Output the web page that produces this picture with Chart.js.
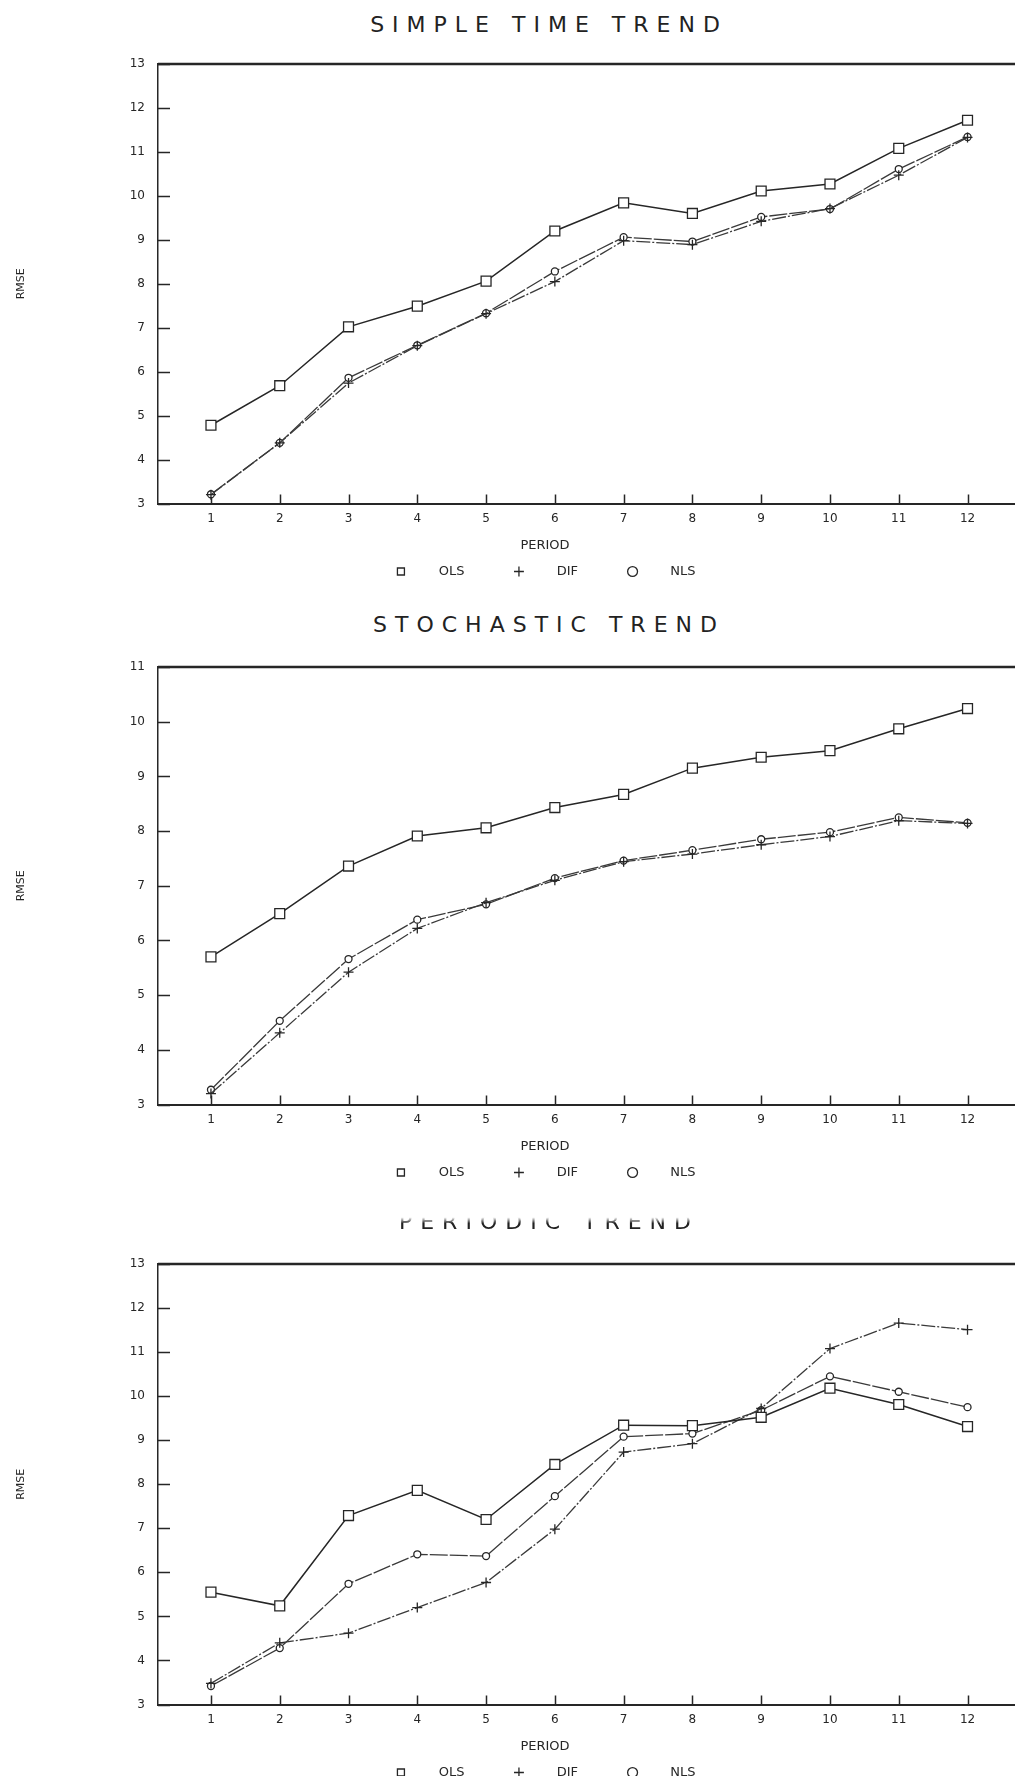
<!DOCTYPE html>
<html>
<head>
<meta charset="utf-8">
<title>RMSE by forecast period</title>
<script src="https://cdn.jsdelivr.net/npm/chart.js@4.4.1/dist/chart.umd.min.js"></script>
<style>
    html, body {
        margin: 0;
        padding: 0;
        width: 1015px;
        height: 1776px;
        overflow: hidden;
        background: #fff;
    }
    .panel-title {
        position: absolute;
        left: 0;
        width: 1098px;
        text-align: center;
        font-family: 'DejaVu Sans', sans-serif;
        font-size: 22px;
        font-weight: normal;
        line-height: 26px;
        letter-spacing: 8px;
        color: #222;
        white-space: nowrap;
    }
    .faded {
        -webkit-mask-image: linear-gradient(to bottom, transparent 0%, transparent 32%, #000 55%);
        mask-image: linear-gradient(to bottom, transparent 0%, transparent 32%, #000 55%);
    }
    canvas {
        position: absolute;
        left: 0;
    }
</style>
</head>
<body>
<div class="panel-title" style="top: 12px;">SIMPLE TIME TREND</div>
<div class="panel-title" style="top: 612px;">STOCHASTIC TREND</div>
<div class="panel-title faded" style="top: 1209px;">PERIODIC TREND</div>

<canvas id="simpleChart"></canvas>
<canvas id="stochChart"></canvas>
<canvas id="periodicChart"></canvas>

<script>
// Forecast horizon (x axis)
const periods = [1, 2, 3, 4, 5, 6, 7, 8, 9, 10, 11, 12];

// Simple time trend
const simpleOLS = [4.78, 5.68, 7.02, 7.49, 8.06, 9.20, 9.84, 9.60, 10.11, 10.27, 11.08, 11.72];
const simpleDIF = [3.20, 4.38, 5.74, 6.59, 7.32, 8.05, 8.98, 8.89, 9.42, 9.71, 10.47, 11.33];
const simpleNLS = [3.21, 4.38, 5.86, 6.60, 7.33, 8.28, 9.06, 8.96, 9.52, 9.70, 10.61, 11.34];

// Stochastic trend
const stochOLS = [5.70, 6.49, 7.36, 7.91, 8.06, 8.43, 8.67, 9.15, 9.35, 9.47, 9.87, 10.24];
const stochDIF = [3.20, 4.31, 5.42, 6.22, 6.69, 7.10, 7.44, 7.58, 7.75, 7.90, 8.19, 8.14];
const stochNLS = [3.27, 4.53, 5.66, 6.38, 6.66, 7.14, 7.46, 7.65, 7.85, 7.98, 8.25, 8.15];

// Periodic trend
const periodicOLS = [5.55, 5.24, 7.29, 7.86, 7.20, 8.45, 9.34, 9.33, 9.52, 10.18, 9.81, 9.31];
const periodicDIF = [3.48, 4.40, 4.62, 5.20, 5.77, 6.98, 8.73, 8.92, 9.72, 11.08, 11.66, 11.51];
const periodicNLS = [3.42, 4.28, 5.74, 6.41, 6.37, 7.73, 9.08, 9.15, 9.68, 10.45, 10.10, 9.75];

const seriesNames = ['OLS', 'DIF', 'NLS'];

const INK = '#262626';
const FONT = "'DejaVu Sans', sans-serif";

Chart.defaults.font.family = FONT;
Chart.defaults.color = INK;

// Top frame line and inward tick marks, plotter style
const frameTicks = {
    id: 'frameTicks',
    beforeDatasetsDraw(chart) {
        const { ctx, chartArea: a, scales: { x, y } } = chart;
        ctx.save();
        ctx.strokeStyle = INK;
        ctx.lineWidth = 2.5;
        ctx.beginPath();
        ctx.moveTo(a.left, a.top);
        ctx.lineTo(a.right, a.top);
        ctx.stroke();

        ctx.lineWidth = 1.5;
        ctx.beginPath();
        y.ticks.forEach(t => {
            const py = Math.round(y.getPixelForValue(t.value)) + 0.5;
            ctx.moveTo(a.left, py);
            ctx.lineTo(a.left + 12, py);
        });
        x.ticks.forEach(t => {
            const px = Math.round(x.getPixelForValue(t.value)) + 0.5;
            ctx.moveTo(px, a.bottom);
            ctx.lineTo(px, a.bottom - 9);
        });
        ctx.stroke();
        ctx.restore();
    },
};

function toPoints(values) {
    return periods.map((p, i) => ({ x: p, y: values[i] }));
}

function makeChart(id, top, plotTop, plotHeight, yMax, ols, dif, nls) {
    const canvas = document.getElementById(id);
    const padTop = plotTop - top;
    // plot runs past the right edge of the page, as on the printed sheet
    canvas.width = 1090;
    canvas.height = padTop + plotHeight + 81;
    canvas.style.top = top + 'px';

    return new Chart(canvas.getContext('2d'), {
        type: 'line',
        data: {
            datasets: [
                {
                    label: seriesNames[0],
                    data: toPoints(ols),
                    borderColor: INK,
                    borderWidth: 1.5,
                    pointStyle: 'rect',
                    pointRadius: 7,
                    pointBorderWidth: 1.3,
                    pointBackgroundColor: '#fff',
                    pointBorderColor: INK,
                    backgroundColor: '#fff',
                },
                {
                    label: seriesNames[1],
                    data: toPoints(dif),
                    borderColor: '#3a3a3a',
                    borderWidth: 1.3,
                    borderDash: [14, 2, 2, 2],
                    pointStyle: 'cross',
                    pointRadius: 5,
                    pointBorderWidth: 1.3,
                    pointBorderColor: INK,
                    backgroundColor: '#fff',
                },
                {
                    label: seriesNames[2],
                    data: toPoints(nls),
                    borderColor: '#3a3a3a',
                    borderWidth: 1.3,
                    borderDash: [18, 2],
                    pointStyle: 'circle',
                    pointRadius: 3.5,
                    pointBorderWidth: 1.3,
                    pointBackgroundColor: '#fff',
                    pointBorderColor: INK,
                    backgroundColor: '#fff',
                },
            ],
        },
        options: {
            responsive: false,
            animation: false,
            events: [],
            layout: {
                padding: { top: padTop, right: 0, bottom: 0, left: 0 },
            },
            plugins: {
                tooltip: { enabled: false },
                legend: {
                    position: 'bottom',
                    title: {
                        display: true,
                        text: 'PERIOD',
                        color: INK,
                        font: { size: 13 },
                        padding: { top: 5.1, bottom: -37.6 },
                    },
                    labels: {
                        usePointStyle: true,
                        boxHeight: 7,
                        padding: 48,
                        color: INK,
                        font: { size: 13 },
                        generateLabels(chart) {
                            return Chart.defaults.plugins.legend.labels.generateLabels(chart)
                                .map(item => ({ ...item, text: '      ' + item.text }));
                        },
                    },
                },
            },
            scales: {
                x: {
                    type: 'linear',
                    min: 0.23,
                    max: 13.66,
                    afterBuildTicks: (s) => { s.ticks = periods.map(v => ({ value: v })); },
                    grid: { display: false, drawTicks: false },
                    border: { display: true, color: INK, width: 2 },
                    ticks: {
                        color: INK,
                        font: { size: 12 },
                        padding: 8,
                        maxRotation: 0,
                        autoSkip: false,
                    },
                },
                y: {
                    min: 3,
                    max: yMax,
                    afterFit: (s) => { s.width = 158; },
                    grid: { display: false, drawTicks: false },
                    border: { display: true, color: INK, width: 1.5 },
                    ticks: {
                        stepSize: 1,
                        color: INK,
                        font: { size: 12 },
                        padding: 13,
                    },
                    title: {
                        display: true,
                        text: 'RMSE',
                        color: INK,
                        font: { size: 11 },
                        padding: { top: 15, bottom: 0 },
                    },
                },
            },
        },
        plugins: [frameTicks],
    });
}

makeChart('simpleChart', 0, 64, 443, 13, simpleOLS, simpleDIF, simpleNLS);
makeChart('stochChart', 600, 667, 441, 11, stochOLS, stochDIF, stochNLS);
makeChart('periodicChart', 1200, 1264, 444, 13, periodicOLS, periodicDIF, periodicNLS);
</script>
</body>
</html>
